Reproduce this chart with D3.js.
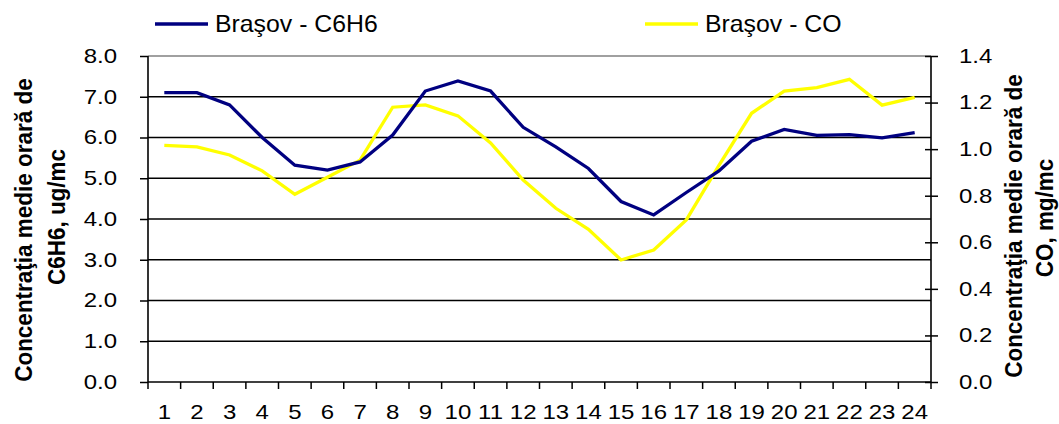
<!DOCTYPE html>
<html>
<head>
<meta charset="utf-8">
<script src="https://cdn.jsdelivr.net/npm/d3@7"></script>
<style>
  body { margin: 0; background: #fff; }
  svg { display: block; font-family: "Liberation Sans", Arial, sans-serif; }
</style>
</head>
<body>
<svg id="chart" width="1059" height="424"></svg>
<script>
var hours = ['1','2','3','4','5','6','7','8','9','10','11','12','13','14','15','16','17','18','19','20','21','22','23','24'];
var c6h6 = [7.10, 7.10, 6.80, 6.00, 5.32, 5.20, 5.40, 6.06, 7.14, 7.39, 7.14, 6.25,
            5.77, 5.24, 4.43, 4.10, 4.65, 5.18, 5.91, 6.20, 6.05, 6.07, 5.99, 6.12];
var co = [1.016, 1.010, 0.975, 0.907, 0.806, 0.879, 0.953, 1.180, 1.190, 1.143, 1.027, 0.867,
          0.746, 0.656, 0.524, 0.567, 0.696, 0.930, 1.154, 1.249, 1.264, 1.300, 1.189, 1.222];
var leftTicks = [0, 1, 2, 3, 4, 5, 6, 7, 8];
var rightTicks = [0, 0.2, 0.4, 0.6, 0.8, 1.0, 1.2, 1.4];

var LEFT = 148, RIGHT = 931, TOP = 56, BOTTOM = 382;
var BLUE = '#000080', YELLOW = '#ffff00';
var STRETCH = 1.2; // the source picture is stretched sideways

var svg = d3.select('#chart');

var x = d3.scaleBand().domain(hours).range([LEFT, RIGHT]);
var yL = d3.scaleLinear().domain([0, 8]).range([BOTTOM, TOP]);
var yR = d3.scaleLinear().domain([0, 1.4]).range([BOTTOM, TOP]);

// gridlines
svg.append('g').selectAll('line')
    .data(leftTicks.filter(function(d) { return d > 0; }))
    .join('line')
    .attr('x1', LEFT).attr('x2', RIGHT)
    .attr('y1', function(d) { return yL(d); })
    .attr('y2', function(d) { return yL(d); })
    .style('stroke', function(d) { return d === 8 ? '#808080' : '#000'; })
    .style('stroke-width', 1.5);

// axes
var leftAxis = svg.append('g')
    .attr('transform', 'translate(' + LEFT + ',0)')
    .call(d3.axisLeft(yL).tickValues(leftTicks).tickFormat(d3.format('.1f')).tickSize(8).tickPadding(23));
var rightAxis = svg.append('g')
    .attr('transform', 'translate(' + RIGHT + ',0)')
    .call(d3.axisRight(yR).tickValues(rightTicks).tickFormat(d3.format('.1f')).tickSize(7).tickPadding(21));
rightAxis.selectAll('.tick line').attr('x1', -6);
var bottomAxis = svg.append('g')
    .attr('transform', 'translate(0,' + BOTTOM + ')')
    .call(d3.axisBottom(x).tickSize(0).tickPadding(23));
bottomAxis.selectAll('.tick line').remove();
bottomAxis.selectAll('.tickmark')
    .data(d3.range(hours.length + 1))
    .join('line')
    .attr('class', 'tickmark')
    .attr('x1', function(i) { return LEFT + i * x.step(); })
    .attr('x2', function(i) { return LEFT + i * x.step(); })
    .attr('y1', 0).attr('y2', 7)
    .style('stroke', '#000').style('stroke-width', 1.5);

[leftAxis, rightAxis, bottomAxis].forEach(function(g) {
    g.select('.domain').attr('d', null);
    g.selectAll('.tick line').style('stroke', '#000').style('stroke-width', 1.5);
    g.selectAll('text')
        .style('font-size', '20px').style('fill', '#000')
        .attr('x', function() { return (+d3.select(this).attr('x') || 0) / STRETCH; })
        .attr('transform', 'scale(' + STRETCH + ',1)');
});
[[LEFT, LEFT, TOP, BOTTOM], [RIGHT, RIGHT, TOP, BOTTOM], [LEFT, RIGHT, BOTTOM, BOTTOM]].forEach(function(l) {
    svg.append('line').attr('x1', l[0]).attr('x2', l[1]).attr('y1', l[2]).attr('y2', l[3])
        .style('stroke', '#000').style('stroke-width', 1.6);
});

// series
var cx = function(d, i) { return x(hours[i]) + x.bandwidth() / 2; };
svg.append('path')
    .datum(co)
    .attr('d', d3.line().x(cx).y(function(d) { return yR(d); }))
    .style('fill', 'none').style('stroke', YELLOW).style('stroke-width', 3.3);
svg.append('path')
    .datum(c6h6)
    .attr('d', d3.line().x(cx).y(function(d) { return yL(d); }))
    .style('fill', 'none').style('stroke', BLUE).style('stroke-width', 3.3);

// axis titles (rotated, baseline x, centre y)
var title = function(tx, ty, s) {
    svg.append('text')
        .attr('transform', 'translate(' + tx + ',' + ty + ') rotate(-90) scale(1,' + 1.1 + ')')
        .attr('text-anchor', 'middle')
        .style('font-size', '22.5px').style('font-weight', 'bold')
        .text(s);
};
title(32, 230, 'Concentraţia medie orară de');
title(65, 217, 'C6H6, ug/mc');
title(1022, 226, 'Concentraţia medie orară de');
title(1053, 218, 'CO, mg/mc');

// legend
var legend = [{name: 'Braşov - C6H6', color: BLUE, x: 155}, {name: 'Braşov - CO', color: YELLOW, x: 645}];
var lg = svg.append('g').selectAll('g').data(legend).join('g')
    .attr('transform', function(d) { return 'translate(' + d.x + ',24)'; });
lg.append('line').attr('x1', 0).attr('x2', 53).attr('y1', 0).attr('y2', 0)
    .style('stroke', function(d) { return d.color; }).style('stroke-width', 3.3);
lg.append('text').attr('x', 60 / 1.08).attr('dy', '0.35em')
    .attr('transform', 'scale(1.08,1)')
    .style('font-size', '23px').text(function(d) { return d.name; });
</script>
</body>
</html>
